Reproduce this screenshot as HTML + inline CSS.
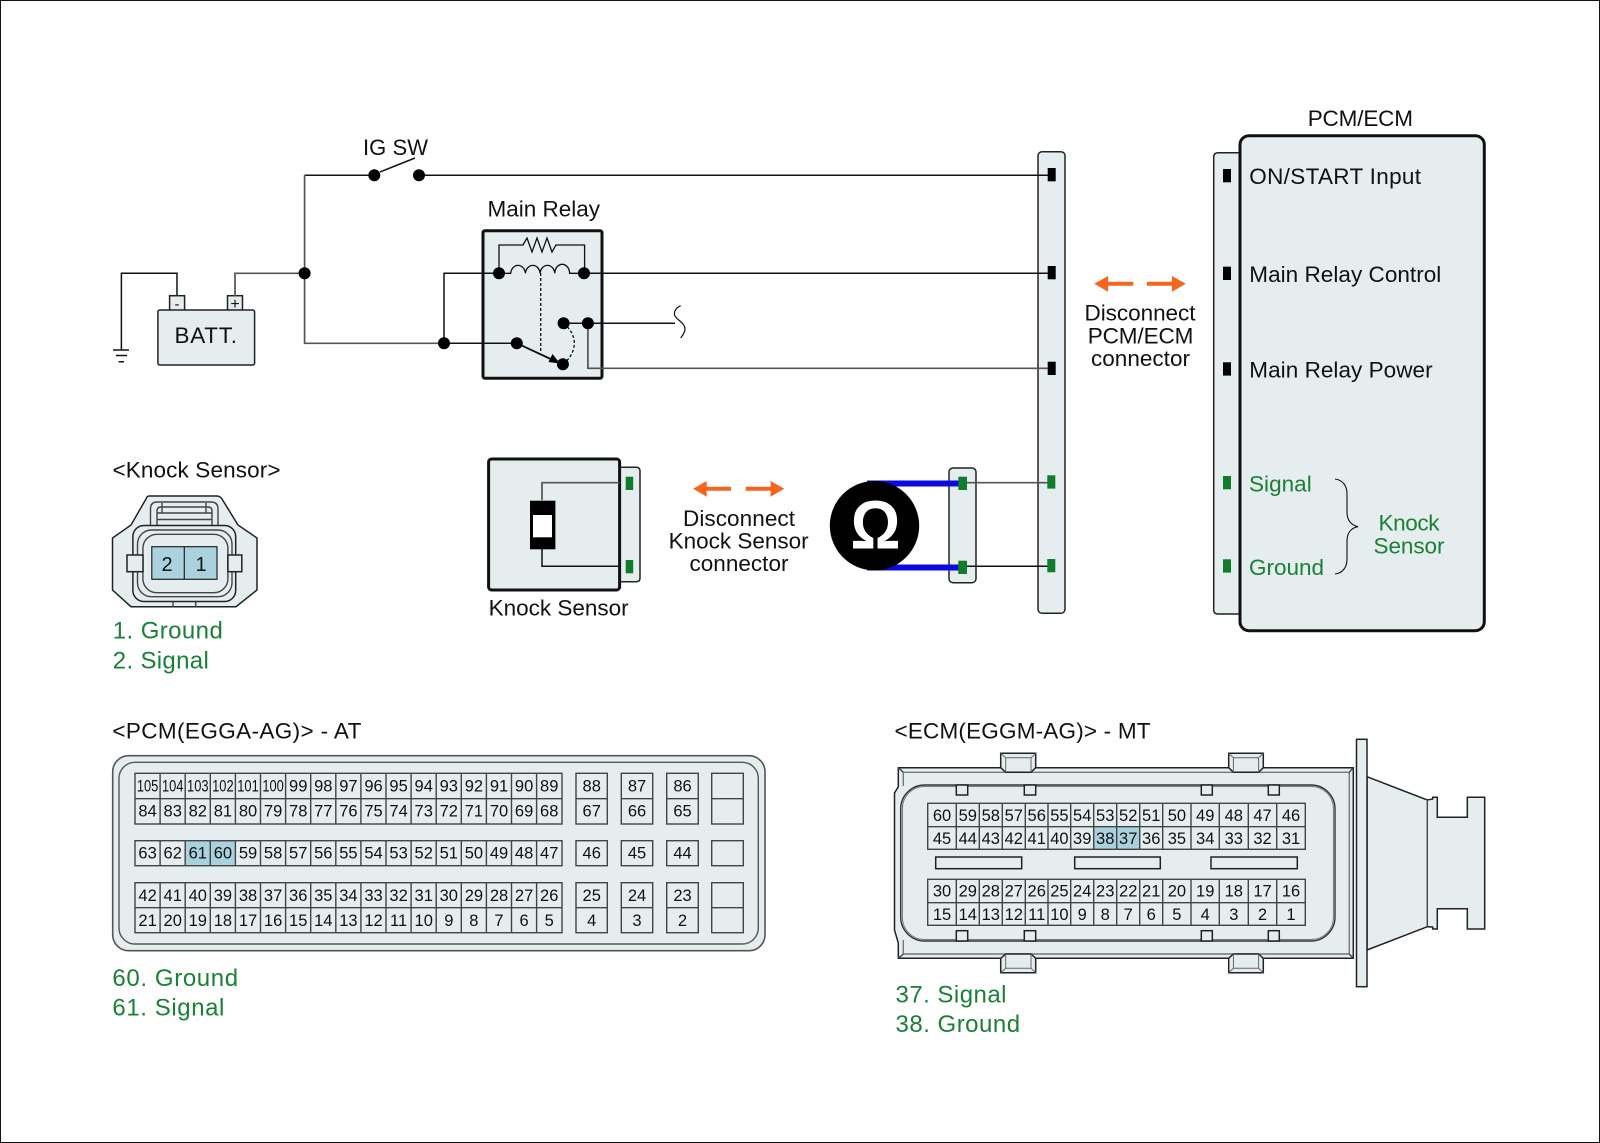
<!DOCTYPE html>
<html><head><meta charset="utf-8"><title>Knock Sensor Circuit</title>
<style>
html,body{margin:0;padding:0;background:#fff}
svg{display:block}
text{font-family:"Liberation Sans",sans-serif;fill:#111}
.g text,text.g{fill:#1a8035}
.w{fill:none;stroke:#111;stroke-width:1.5}
.y{fill:none;stroke:#555;stroke-width:1.7}
.s{fill:#e5edef;stroke:#222;stroke-width:1.5}
.b{fill:#e5edef;stroke:#111;stroke-width:3}
.c{stroke:#444;stroke-width:1.4;fill:none}
</style></head><body>
<svg xmlns="http://www.w3.org/2000/svg" width="1600" height="1143" viewBox="0 0 1600 1143">
<rect x="0.5" y="0.5" width="1599" height="1142" fill="#fff" stroke="#111" stroke-width="1"/>

<!-- boxes first -->
<rect class="s" x="169.6" y="295.7" width="15" height="15"/>
<rect class="s" x="227.5" y="295.7" width="15" height="15"/>
<rect class="s" x="157.9" y="310" width="96.7" height="55" rx="2"/>
<rect class="b" x="483" y="230.7" width="119" height="147.6" rx="2"/>
<rect class="s" x="1038" y="151.7" width="27" height="461.6" rx="4"/>
<path class="s" d="M1240 152.7H1218Q1213.7 152.7 1213.7 157V610Q1213.7 614 1218 614H1240Z"/>
<rect class="b" x="1240" y="135.7" width="244.3" height="495" rx="9"/>

<!-- wires -->
<g class="w">
<path d="M304.6 175.3H374"/>
<path d="M419 175.3H1051"/>
<path d="M380 172L415 158"/>
<path d="M177 296V273.3H121.4V350"/>
<path d="M113 350H129M116 355.5H127M118.6 361.7H124"/>
<path d="M444 343.3V273.3H499"/>
<path d="M584 273.3H1051"/>
<path d="M563.6 323.3H675"/>
<path d="M680.7 305.7C675 308 673.5 313 675 316C677 320 685 323 685 329C685 333 682 336 680.7 338" style="stroke-width:1.2"/>
<path d="M444 343.3H517"/>
</g>
<g class="y">
<path d="M304.6 175.3V343.3H444"/>
<path d="M235 296V273.3H304.6"/>
<path d="M587.9 323.3V368.3H1051"/>
</g>

<!-- battery text -->
<text x="177" y="309" font-size="15" text-anchor="middle">-</text>
<text x="235" y="309" font-size="16" text-anchor="middle">+</text>
<text x="174.5" y="343" font-size="22.5" textLength="62.5">BATT.</text>

<!-- IG SW -->
<text x="363" y="155" font-size="22" textLength="65">IG SW</text>
<circle cx="374.3" cy="175.3" r="6"/><circle cx="419" cy="175.3" r="6"/>
<circle cx="304.6" cy="273.3" r="6"/><circle cx="444" cy="343.3" r="6"/>

<!-- main relay -->
<text x="487.5" y="216.7" font-size="22.5" textLength="112.5">Main Relay</text>
<g class="w" style="stroke-width:1.3">
<path d="M499 273V245H523L527 238L532 252L537 238L542 252L547 238L552 252L556 245H584.6V273"/>
<path d="M499 273.3H510.7A7.4 9 0 0 1 525.4 273.3A7.4 9 0 0 1 540.1 273.3A7.4 9 0 0 1 554.8 273.3A7.4 9 0 0 1 569.6 273.3H584"/>
<path d="M540.7 273V353" stroke-dasharray="3 2"/>
<path d="M563.6 323.3C578 335 578 352 562.9 364.3" stroke-dasharray="3 2"/>
<path d="M517 343.3L556 361.5" style="stroke-width:1.8"/>
</g>
<polygon points="560,363.5 548.5,362 552.5,354"/>
<circle cx="499" cy="273.3" r="6"/><circle cx="584" cy="273.3" r="6"/>
<circle cx="563.6" cy="323.3" r="6"/><circle cx="587.9" cy="323.3" r="6"/>
<circle cx="516.8" cy="343.3" r="6"/><circle cx="562.9" cy="364.3" r="6"/>

<!-- pins -->
<g fill="#000">
<rect x="1047.7" y="168" width="8" height="13.3"/><rect x="1047.7" y="266" width="8" height="13.3"/><rect x="1047.7" y="361.7" width="8" height="13.3"/>
<rect x="1223" y="169" width="8" height="13.3"/><rect x="1223" y="266.7" width="8" height="13.3"/><rect x="1223" y="362.3" width="8" height="13.3"/>
</g>

<text x="1307.7" y="126" font-size="22.5" textLength="105.3">PCM/ECM</text>
<text x="1249.3" y="184" font-size="22.5" textLength="171.7">ON/START Input</text>
<text x="1249.3" y="282" font-size="22.5" textLength="192">Main Relay Control</text>
<text x="1249.3" y="377.7" font-size="22.5" textLength="183.3">Main Relay Power</text>

<!-- orange arrows -->
<g fill="#f4661b">
<path d="M1094.3 283.7L1108 276V281.7H1133.3V285.7H1108V291.7Z"/>
<path d="M1185.7 283.7L1172 276V281.7H1147V285.7H1172V291.7Z"/>
<path d="M693 488.7L706.7 481V486.7H731V490.7H706.7V496.7Z"/>
<path d="M784.3 488.7L770.6 481V486.7H745.7V490.7H770.6V496.7Z"/>
</g>
<text x="1084.5" y="320.7" font-size="22.5" textLength="111">Disconnect</text>
<text x="1087.7" y="343.3" font-size="22.5" textLength="105.7">PCM/ECM</text>
<text x="1091" y="366" font-size="22.5" textLength="99">connector</text>
<text x="683" y="526" font-size="22.5" textLength="112">Disconnect</text>
<text x="668.6" y="548.3" font-size="22.5" textLength="140">Knock Sensor</text>
<text x="689.5" y="571" font-size="22.5" textLength="99">connector</text>

<!-- knock sensor symbol -->
<path class="s" d="M619.6 467.3H636Q640 467.3 640 471V578Q640 581.7 636 581.7H619.6Z"/>
<rect class="b" x="488.6" y="459" width="131" height="131" rx="3"/>
<path class="y" d="M619.6 482.7H542V500"/>
<path class="w" d="M542 549V566.3H619.6"/>
<rect x="530" y="500.7" width="25.4" height="48.6" fill="#000"/>
<rect x="533" y="515" width="19" height="22.3" fill="#fff"/>
<rect x="625.7" y="476.7" width="7.5" height="13.3" fill="#0f7d2c"/>
<rect x="625.7" y="560" width="7.5" height="13.3" fill="#0f7d2c"/>
<text x="488.6" y="615.7" font-size="22.5" textLength="140">Knock Sensor</text>

<!-- ohmmeter -->
<rect class="s" x="949" y="468" width="27" height="114.7" rx="4"/>
<rect x="867" y="480.5" width="93" height="6" fill="#0a0ae0"/>
<rect x="867" y="564.5" width="93" height="6" fill="#0a0ae0"/>
<circle cx="874.5" cy="525.7" r="44.7" fill="#000"/>
<text x="875.5" y="548.3" font-size="69" font-weight="700" text-anchor="middle" textLength="50" lengthAdjust="spacingAndGlyphs" style="fill:#fff">Ω</text>
<path class="y" d="M963 482.7H1050"/>
<path class="w" d="M963 566.3H1050"/>
<g fill="#0f7d2c">
<rect x="958.3" y="476.7" width="8.7" height="13.3"/>
<rect x="958.3" y="560.7" width="8.7" height="13.3"/>
<rect x="1047.3" y="475.3" width="8" height="13.3"/><rect x="1047.3" y="559" width="8" height="13.3"/>
<rect x="1223" y="476" width="8" height="13.3"/><rect x="1223" y="559.3" width="8" height="13.3"/>
</g>

<!-- right labels -->
<g class="g">
<text x="1249" y="491.7" font-size="22.5" textLength="62.7">Signal</text>
<text x="1249" y="575" font-size="22.5" textLength="75">Ground</text>
<text x="1378.5" y="530.7" font-size="22.5" textLength="61">Knock</text>
<text x="1373.5" y="553.3" font-size="22.5" textLength="71">Sensor</text>
</g>
<path class="w" style="stroke-width:1.1" d="M1335 479C1343 480 1347 486 1347 494V512C1347 520 1351 525 1358 526.7C1351 528 1347 533 1347 541V559C1347 567 1343 573 1335 574"/>

<!-- knock sensor connector face -->
<text x="112.5" y="477.3" font-size="22.5" textLength="168">&lt;Knock Sensor&gt;</text>
<path class="s" d="M149 496H217Q220 496 222 499L238 525L257 538V590L236 606.7H131L112.5 590V538L131 525L146 499Q147 496 149 496Z"/>
<path class="c" d="M150.5 527V509Q150.5 502 157 502H211Q218 502 218 509V527"/>
<path class="c" d="M157 527V511Q157 507 161 507H208Q212 507 212 511V527"/>
<path class="c" d="M162 503V513M206 503V513M157 513H212M157 519.5H212"/>
<rect class="s" x="132.9" y="525.5" width="102.8" height="76" rx="11"/>
<rect class="c" x="137.5" y="530" width="94.5" height="66.7" rx="14"/>
<rect class="c" x="142.9" y="534.3" width="85" height="58.4" rx="14"/>
<rect class="s" x="127" y="555" width="16" height="16.7" />
<rect class="s" x="227.9" y="555" width="13.9" height="16.7"/>
<path class="c" d="M173 601.7V606.7M195.7 601.7V606.7"/>
<rect x="151.8" y="546.7" width="65.2" height="32.6" fill="#a9d2de" stroke="#222" stroke-width="1.2"/>
<path d="M184.3 546.7V579.3" stroke="#222" stroke-width="1.2"/>
<text x="167" y="571" font-size="20" text-anchor="middle">2</text>
<text x="201" y="571" font-size="20" text-anchor="middle">1</text>
<g class="g" font-size="24">
<text x="112.8" y="638.6" textLength="110">1. Ground</text>
<text x="112.8" y="668.3" textLength="96">2. Signal</text>
</g>

<!-- PCM connector -->
<text x="112.4" y="738.3" font-size="22.5" textLength="249">&lt;PCM(EGGA-AG)&gt; - AT</text>
<rect x="112.7" y="755.7" width="652.3" height="195" rx="16" fill="#e5edef" stroke="#555" stroke-width="1.6"/>
<rect x="119" y="762.3" width="639.3" height="181.7" rx="16" fill="#e5edef" stroke="#555" stroke-width="1.4"/>
<rect x="185.2" y="840.7" width="50.2" height="25" fill="#a9d2de"/>
<g class="c">
<rect x="135" y="773.3" width="427" height="50.7"/><path d="M135 798.7H562"/>
<rect x="135" y="840.7" width="427" height="25"/>
<rect x="135" y="882.7" width="427" height="50"/><path d="M135 907.7H562"/>
<path d="M160.1 773.3V824M185.2 773.3V824M210.3 773.3V824M235.4 773.3V824M260.5 773.3V824M285.6 773.3V824M310.7 773.3V824M335.8 773.3V824M360.9 773.3V824M386 773.3V824M411.1 773.3V824M436.2 773.3V824M461.3 773.3V824M486.4 773.3V824M511.5 773.3V824M536.6 773.3V824"/>
<path d="M160.1 840.7V865.7M185.2 840.7V865.7M210.3 840.7V865.7M235.4 840.7V865.7M260.5 840.7V865.7M285.6 840.7V865.7M310.7 840.7V865.7M335.8 840.7V865.7M360.9 840.7V865.7M386 840.7V865.7M411.1 840.7V865.7M436.2 840.7V865.7M461.3 840.7V865.7M486.4 840.7V865.7M511.5 840.7V865.7M536.6 840.7V865.7"/>
<path d="M160.1 882.7V932.7M185.2 882.7V932.7M210.3 882.7V932.7M235.4 882.7V932.7M260.5 882.7V932.7M285.6 882.7V932.7M310.7 882.7V932.7M335.8 882.7V932.7M360.9 882.7V932.7M386 882.7V932.7M411.1 882.7V932.7M436.2 882.7V932.7M461.3 882.7V932.7M486.4 882.7V932.7M511.5 882.7V932.7M536.6 882.7V932.7"/>
<rect x="576" y="773.3" width="31.3" height="50.7"/><path d="M576 798.7H607.3"/>
<rect x="621.3" y="773.3" width="31.4" height="50.7"/><path d="M621.3 798.7H652.7"/>
<rect x="666.7" y="773.3" width="31.6" height="50.7"/><path d="M666.7 798.7H698.3"/>
<rect x="711.7" y="773.3" width="31.6" height="50.7"/><path d="M711.7 798.7H743.3"/>
<rect x="576" y="840.7" width="31.3" height="25"/><rect x="621.3" y="840.7" width="31.4" height="25"/><rect x="666.7" y="840.7" width="31.6" height="25"/><rect x="711.7" y="840.7" width="31.6" height="25"/>
<rect x="576" y="882.7" width="31.3" height="50"/><path d="M576 907.7H607.3"/>
<rect x="621.3" y="882.7" width="31.4" height="50"/><path d="M621.3 907.7H652.7"/>
<rect x="666.7" y="882.7" width="31.6" height="50"/><path d="M666.7 907.7H698.3"/>
<rect x="711.7" y="882.7" width="31.6" height="50"/><path d="M711.7 907.7H743.3"/>
</g>
<g font-size="16.5" text-anchor="middle">
<g transform="translate(0,791.7)">
<text x="147.6" textLength="21.5" lengthAdjust="spacingAndGlyphs">105</text><text x="172.7" textLength="21.5" lengthAdjust="spacingAndGlyphs">104</text><text x="197.8" textLength="21.5" lengthAdjust="spacingAndGlyphs">103</text><text x="222.9" textLength="21.5" lengthAdjust="spacingAndGlyphs">102</text><text x="248" textLength="21.5" lengthAdjust="spacingAndGlyphs">101</text><text x="273.1" textLength="21.5" lengthAdjust="spacingAndGlyphs">100</text>
<text x="298.2">99</text><text x="323.3">98</text><text x="348.4">97</text><text x="373.5">96</text><text x="398.6">95</text><text x="423.7">94</text><text x="448.8">93</text><text x="473.9">92</text><text x="499">91</text><text x="524.1">90</text><text x="549.2">89</text>
<text x="591.7">88</text><text x="637">87</text><text x="682.5">86</text>
</g>
<g transform="translate(0,816.7)">
<text x="147.6">84</text><text x="172.7">83</text><text x="197.8">82</text><text x="222.9">81</text><text x="248">80</text><text x="273.1">79</text><text x="298.2">78</text><text x="323.3">77</text><text x="348.4">76</text><text x="373.5">75</text><text x="398.6">74</text><text x="423.7">73</text><text x="448.8">72</text><text x="473.9">71</text><text x="499">70</text><text x="524.1">69</text><text x="549.2">68</text>
<text x="591.7">67</text><text x="637">66</text><text x="682.5">65</text>
</g>
<g transform="translate(0,858.5)">
<text x="147.6">63</text><text x="172.7">62</text><text x="197.8">61</text><text x="222.9">60</text><text x="248">59</text><text x="273.1">58</text><text x="298.2">57</text><text x="323.3">56</text><text x="348.4">55</text><text x="373.5">54</text><text x="398.6">53</text><text x="423.7">52</text><text x="448.8">51</text><text x="473.9">50</text><text x="499">49</text><text x="524.1">48</text><text x="549.2">47</text>
<text x="591.7">46</text><text x="637">45</text><text x="682.5">44</text>
</g>
<g transform="translate(0,901)">
<text x="147.6">42</text><text x="172.7">41</text><text x="197.8">40</text><text x="222.9">39</text><text x="248">38</text><text x="273.1">37</text><text x="298.2">36</text><text x="323.3">35</text><text x="348.4">34</text><text x="373.5">33</text><text x="398.6">32</text><text x="423.7">31</text><text x="448.8">30</text><text x="473.9">29</text><text x="499">28</text><text x="524.1">27</text><text x="549.2">26</text>
<text x="591.7">25</text><text x="637">24</text><text x="682.5">23</text>
</g>
<g transform="translate(0,926)">
<text x="147.6">21</text><text x="172.7">20</text><text x="197.8">19</text><text x="222.9">18</text><text x="248">17</text><text x="273.1">16</text><text x="298.2">15</text><text x="323.3">14</text><text x="348.4">13</text><text x="373.5">12</text><text x="398.6">11</text><text x="423.7">10</text><text x="448.8">9</text><text x="473.9">8</text><text x="499">7</text><text x="524.1">6</text><text x="549.2">5</text>
<text x="591.7">4</text><text x="637">3</text><text x="682.5">2</text>
</g>
</g>
<g class="g" font-size="24">
<text x="112.4" y="986" textLength="125.7">60. Ground</text>
<text x="112.4" y="1015.6" textLength="112">61. Signal</text>
</g>

<!-- ECM connector -->
<text x="894.5" y="738.3" font-size="22.5" textLength="256">&lt;ECM(EGGM-AG)&gt; - MT</text>
<!-- plug tail -->
<path class="s" d="M1367 776.7L1427.3 800L1432.7 799L1432.7 797.3H1437.3V817.3H1467.3V797.3H1484.7V929H1467.3V908.7H1437.3V929H1432.7V927L1427.3 926.7L1367 950Z"/>
<path class="c" d="M1427.3 800V926.7"/>
<!-- body -->
<path class="s" d="M898.3 767.7H1353.3V958.3H898.3V943L894.5 930V793L898.3 786.7Z"/>
<path class="c" d="M903.3 786V772.3H1349.3V954H903.3V940" style="stroke:#777"/>
<path class="c" d="M898.3 767.7L903.3 772.3M1353.3 767.7L1349.3 772.3M1353.3 958.3L1349.3 954M898.3 958.3L903.3 954"/>
<!-- tabs -->
<g class="s">
<path d="M1000.7 767.7V753.3H1035.7V767.7L1031 772.3H1005.7Z"/>
<path d="M1228.7 767.7V753.3H1263.3V767.7L1258.6 772.3H1233.4Z"/>
<path d="M1000.7 958.3V972.7H1035.7V958.3L1031 954H1005.7Z"/>
<path d="M1228.7 958.3V972.7H1263.3V958.3L1258.6 954H1233.4Z"/>
</g>
<path class="c" d="M1000.7 753.3L1005.7 757.7H1031L1035.7 753.3M1005.7 757.7V772.3M1031 757.7V772.3M1228.7 753.3L1233.4 757.7H1258.6L1263.3 753.3M1233.4 757.7V772.3M1258.6 757.7V772.3M1000.7 972.7L1005.7 968.3H1031L1035.7 972.7M1005.7 968.3V954M1031 968.3V954M1228.7 972.7L1233.4 968.3H1258.6L1263.3 972.7M1233.4 968.3V954M1258.6 968.3V954" style="stroke:#666;stroke-width:1"/>
<rect x="900.7" y="785" width="434.3" height="156" rx="24" fill="#e5edef" stroke="#333" stroke-width="1.4"/>
<rect x="902.4" y="786.5" width="431" height="153" rx="22" fill="#e5edef" stroke="#777" stroke-width="1"/>
<g class="s">
<rect x="956.3" y="785" width="11.4" height="10"/><rect x="1024.3" y="785" width="11.4" height="10"/><rect x="1201.3" y="785" width="11" height="10"/><rect x="1268.3" y="785" width="11" height="10"/>
<rect x="956.3" y="930.7" width="11.4" height="10.3"/><rect x="1024.3" y="930.7" width="11.4" height="10.3"/><rect x="1201.3" y="930.7" width="11" height="10.3"/><rect x="1268.3" y="930.7" width="11" height="10.3"/>
<rect x="935.7" y="857" width="86" height="11.7"/><rect x="1074.7" y="857" width="85.6" height="11.7"/><rect x="1211" y="857" width="86.3" height="11.7"/>
</g>
<rect x="1093.7" y="826.7" width="46" height="22.6" fill="#a9d2de"/>
<g class="c">
<rect x="927.7" y="803.3" width="377.6" height="46"/><path d="M927.7 826.7H1305.3"/>
<rect x="927.7" y="879.3" width="377.6" height="46"/><path d="M927.7 902.7H1305.3"/>
<path d="M956.3 803.3V849.3M979.3 803.3V849.3M1002.3 803.3V849.3M1025.3 803.3V849.3M1048 803.3V849.3M1070.7 803.3V849.3M1093.7 803.3V849.3M1116.7 803.3V849.3M1139.7 803.3V849.3M1162.7 803.3V849.3M1191 803.3V849.3M1219.3 803.3V849.3M1248.3 803.3V849.3M1276.7 803.3V849.3"/>
<path d="M956.3 879.3V925.3M979.3 879.3V925.3M1002.3 879.3V925.3M1025.3 879.3V925.3M1048 879.3V925.3M1070.7 879.3V925.3M1093.7 879.3V925.3M1116.7 879.3V925.3M1139.7 879.3V925.3M1162.7 879.3V925.3M1191 879.3V925.3M1219.3 879.3V925.3M1248.3 879.3V925.3M1276.7 879.3V925.3"/>
</g>
<g font-size="16.5" text-anchor="middle">
<g transform="translate(0,821)">
<text x="942">60</text><text x="967.8">59</text><text x="990.8">58</text><text x="1013.8">57</text><text x="1036.7">56</text><text x="1059.4">55</text><text x="1082.2">54</text><text x="1105.2">53</text><text x="1128.2">52</text><text x="1151.2">51</text><text x="1176.9">50</text><text x="1205.2">49</text><text x="1233.8">48</text><text x="1262.5">47</text><text x="1291">46</text>
</g>
<g transform="translate(0,844)">
<text x="942">45</text><text x="967.8">44</text><text x="990.8">43</text><text x="1013.8">42</text><text x="1036.7">41</text><text x="1059.4">40</text><text x="1082.2">39</text><text x="1105.2">38</text><text x="1128.2">37</text><text x="1151.2">36</text><text x="1176.9">35</text><text x="1205.2">34</text><text x="1233.8">33</text><text x="1262.5">32</text><text x="1291">31</text>
</g>
<g transform="translate(0,896.7)">
<text x="942">30</text><text x="967.8">29</text><text x="990.8">28</text><text x="1013.8">27</text><text x="1036.7">26</text><text x="1059.4">25</text><text x="1082.2">24</text><text x="1105.2">23</text><text x="1128.2">22</text><text x="1151.2">21</text><text x="1176.9">20</text><text x="1205.2">19</text><text x="1233.8">18</text><text x="1262.5">17</text><text x="1291">16</text>
</g>
<g transform="translate(0,920)">
<text x="942">15</text><text x="967.8">14</text><text x="990.8">13</text><text x="1013.8">12</text><text x="1036.7">11</text><text x="1059.4">10</text><text x="1082.2">9</text><text x="1105.2">8</text><text x="1128.2">7</text><text x="1151.2">6</text><text x="1176.9">5</text><text x="1205.2">4</text><text x="1233.8">3</text><text x="1262.5">2</text><text x="1291">1</text>
</g>
</g>
<!-- flange -->
<rect class="s" x="1356.5" y="739.3" width="10.5" height="247.4"/>
<g class="g" font-size="24">
<text x="895.5" y="1002.3" textLength="111">37. Signal</text>
<text x="895.5" y="1031.9" textLength="124.6">38. Ground</text>
</g>
</svg>
</body></html>
